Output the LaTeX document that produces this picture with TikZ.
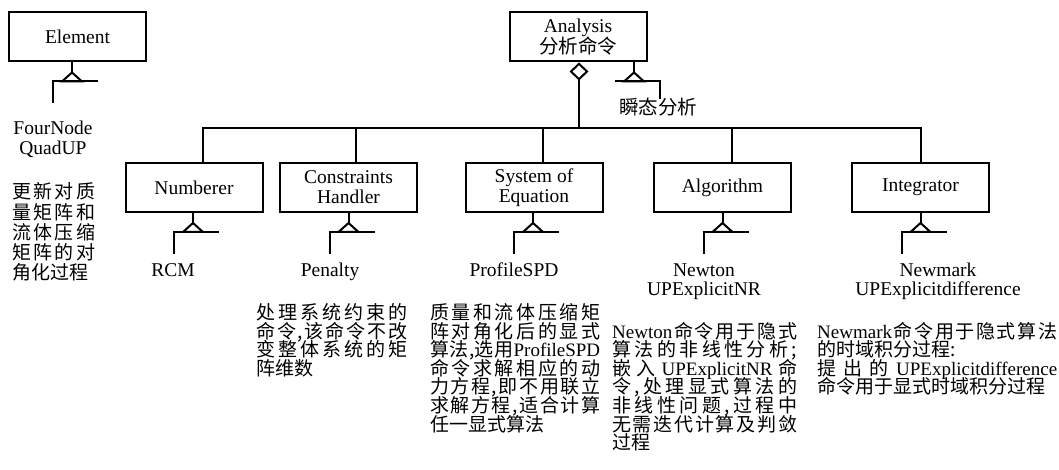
\documentclass[tikz,border=0pt]{standalone}
\usepackage{fontspec}
\setmainfont{Liberation Serif}
\newfontfamily\cjk{Noto Sans CJK SC}
\newfontfamily\lat{Liberation Serif}
\usetikzlibrary{arrows.meta}
\makeatletter
% justified line: items spread evenly over the given width (in pt)
\newcommand\jline[2]{\makebox[#1pt][s]{\let\jl@first\relax\@tfor\jl@tok:=#2\do{\ifx\jl@first\relax\let\jl@first\empty\else\hfil\fi{\jl@tok}}}}
\makeatother
% centred lines whose baseline is the first line's
\newcommand\stacked[1]{\vtop{\halign{\hfil##\hfil\cr#1\crcr}}}
\tikzset{
  conn/.style={line width=2pt},
  box/.style={draw, line width=2pt, minimum width=137pt, minimum height=49pt,
    inner sep=0pt, align=center, font={\fontsize{19.5}{20}\selectfont}},
  lbl/.style={inner sep=0pt, anchor=base, font={\fontsize{19.5}{20}\selectfont}},
  para/.style={inner sep=0pt, anchor=base west,
    font={\cjk\fontsize{19}{18.6}\selectfont\lineskiplimit=-30pt}},
  paraw/.style={inner sep=0pt, anchor=base west,
    font={\cjk\fontsize{19}{20.2}\selectfont\lineskiplimit=-30pt}},
  % generalisation mark: stem, open triangle, bar and a drop on the left
  pics/gen/.style={code={
    \draw[conn] (0,0) -- (0,10);
    \draw[conn, fill=white] (0,10) -- (-10,19) -- (10,19) -- cycle;
    \draw[conn] (26,19) -- (-19,19) -- (-19,41);
  }},
  % same mark with the drop on the right
  pics/genr/.style={code={
    \draw[conn] (0,0) -- (0,10);
    \draw[conn, fill=white] (0,10) -- (-10,19) -- (10,19) -- cycle;
    \draw[conn] (-19,19) -- (26,19) -- (26,37);
  }},
}
\begin{document}
\begin{tikzpicture}[x=1pt, y=-1pt]
\path[fill=white, use as bounding box] (0,0) rectangle (1059,470);

% class boxes
\node[box] (el)  at (77.5,37)    {Element};
\node[box] (an)  at (578,37)     {Analysis\\{\cjk 分析命令}};
\node[box] (num) at (194,187.5)  {Numberer};
\node[box] (ch)  at (348.5,187.5){Constraints\\Handler};
\node[box] (soe) at (534,187.5)  {System of\\Equation};
\node[box] (alg) at (722.5,187.5){Algorithm};
\node[box] (int) at (920.5,187.5){Integrator};

% aggregation: Analysis owns the five components
\coordinate (hub)   at (579,128);
\coordinate (j-num) at (203,128);
\coordinate (j-ch)  at (356,128);
\coordinate (j-soe) at (543,128);
\coordinate (j-alg) at (732,128);
\coordinate (j-int) at (921,128);
\draw[conn, -{Diamond[open, length=18pt, width=19pt]}] (hub) -- (hub |- an.south);
\draw[conn] (num.north -| j-num) -- (j-num) -- (j-int) -- (int.north -| j-int);
\draw[conn] (j-ch)  -- (j-ch  |- ch.north);
\draw[conn] (j-soe) -- (j-soe |- soe.north);
\draw[conn] (j-alg) -- (j-alg |- alg.north);

% generalisation marks
\pic at ([xshift=-5.5pt]el.south) {gen};
\pic at ([xshift=56pt]an.south) {genr};
\pic at ([xshift=-1pt]num.south) {gen};
\pic at (ch.south) {gen};
\pic at ([xshift=-1pt]soe.south) {gen};
\pic at (alg.south) {gen};
\pic at (int.south) {gen};

% subclass names
\node[lbl] (fn)  at (53,135)  {\stacked{FourNode\cr QuadUP}};
\node[lbl, font={\cjk\fontsize{19.5}{20}\selectfont}] (tai) at (658,115) {瞬态分析};
\node[lbl] (rcm) at (173,276) {RCM};
\node[lbl] (pen) at (330,276) {Penalty};
\node[lbl] (spd) at (514,276) {ProfileSPD};
\node[lbl] (nr)  at (704,276) {\stacked{Newton\cr UPExplicitNR}};
\node[lbl] (nm)  at (938,276) {\stacked{Newmark\cr UPExplicitdifference}};

% notes
\node[paraw] (d-el) at (12,199) {\vtop{%
  \hbox{\jline{83}{更新对质}}%
  \hbox{\jline{83}{量矩阵和}}%
  \hbox{\jline{83}{流体压缩}}%
  \hbox{\jline{83}{矩阵的对}}%
  \hbox{角化过程}}};

\node[para] (d-ch) at (256,319.5) {\vtop{%
  \hbox{\jline{151}{处理系统约束的}}%
  \hbox{\jline{151}{命令,该命令不改}}%
  \hbox{\jline{151}{变整体系统的矩}}%
  \hbox{阵维数}}};

\node[para] (d-soe) at (430,319.5) {\vtop{%
  \hbox{\jline{170}{质量和流体压缩矩}}%
  \hbox{\jline{170}{阵对角化后的显式}}%
  \hbox{\jline{170}{算法,选用{\lat ProfileSPD}}}%
  \hbox{\jline{170}{命令求解相应的动}}%
  \hbox{\jline{170}{力方程,即不用联立}}%
  \hbox{\jline{170}{求解方程,适合计算}}%
  \hbox{任一显式算法}}};

\node[para] (d-alg) at (612,338) {\vtop{%
  \hbox{\jline{185}{{\lat Newton}命令用于隐式}}%
  \hbox{\jline{185}{算法的非线性分析;}}%
  \hbox{\jline{185}{嵌入{\lat UPExplicitNR}命}}%
  \hbox{\jline{185}{令,处理显式算法的}}%
  \hbox{\jline{185}{非线性问题,过程中}}%
  \hbox{\jline{185}{无需迭代计算及判敛}}%
  \hbox{过程}}};

\node[para] (d-int) at (817,338) {\vtop{%
  \hbox{\jline{240}{{\lat Newmark}命令用于隐式算法}}%
  \hbox{的时域积分过程:}%
  \hbox{\jline{240}{提出的{\lat UPExplicitdifference}}}%
  \hbox{命令用于显式时域积分过程}}};
\end{tikzpicture}
\end{document}
